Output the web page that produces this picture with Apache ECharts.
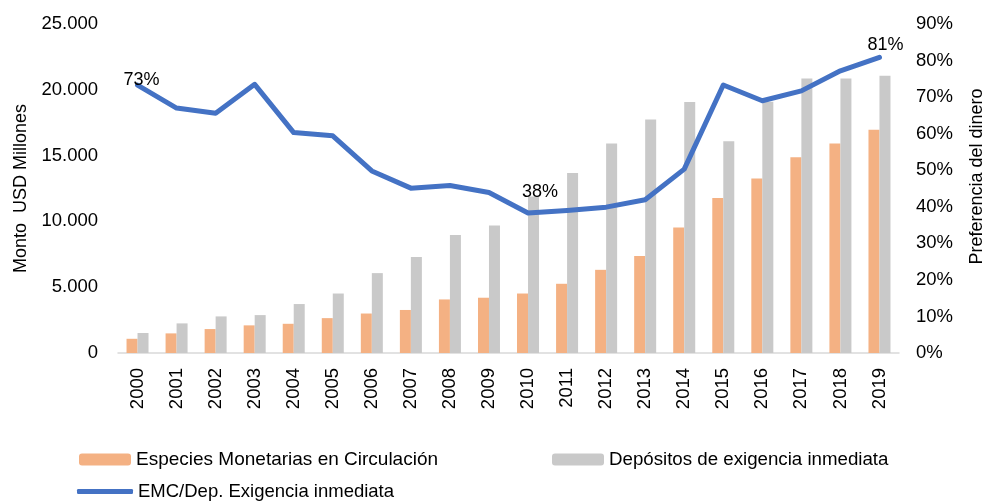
<!DOCTYPE html>
<html>
<head>
<meta charset="utf-8">
<script src="https://cdn.jsdelivr.net/npm/echarts@6/dist/echarts.min.js"></script>
<style>
  html, body { margin: 0; padding: 0; background: #fff; }
  #chart { width: 989px; height: 503px; }
</style>
</head>
<body>
<div id="chart"></div>
<script>
// años
var years = ['2000','2001','2002','2003','2004','2005','2006','2007','2008','2009',
             '2010','2011','2012','2013','2014','2015','2016','2017','2018','2019'];
// Especies Monetarias en Circulación (USD millones)
var emc = [1080,1490,1820,2100,2220,2650,3000,3270,4070,4200,
           4520,5260,6320,7370,9540,11770,13260,14870,15910,16970];
// Depósitos de exigencia inmediata (USD millones)
var depositos = [1520,2250,2780,2880,3720,4520,6070,7290,8960,9690,
                 11900,13670,15910,17740,19080,16090,19100,20850,20850,21060];
// EMC/Dep. (%)
var preferencia = [73.3,67.0,65.6,73.5,60.3,59.4,49.8,45.1,45.8,43.9,
                   38.3,39.0,39.9,41.9,50.3,73.3,69.0,71.7,77.2,80.9];

var font = 'Liberation Sans';
var txt = '#000';

//etiquetas visibles solo en algunos puntos
var labelOffsets = { 0: [4, 4], 10: [12, -12], 19: [6, -3] };
var lineData = [];
for (var i = 0; i < preferencia.length; i++) {
    var item = { value: preferencia[i] };
    if (labelOffsets[i]) {
        item.label = { show: true, position: 'top', distance: 0, offset: labelOffsets[i] };
    }
    lineData.push(item);
}

function miles(v) {
    return String(v).replace(/\B(?=(\d{3})+(?!\d))/g, '.');
}

var myChart = echarts.init(document.getElementById('chart'));
var option = {
    animation: false,
    textStyle: { fontFamily: font },
    grid: { left: 118, right: 90, top: 24, bottom: 150, containLabel: false, outerBoundsMode: 'none' },
    legend: [
        {
            left: 79, top: 450, padding: 0, itemWidth: 52, itemHeight: 12, itemGap: 0,
            textStyle: { fontFamily: font, fontSize: 19, color: txt },
            data: ['Especies Monetarias en Circulación']
        },
        {
            left: 552, top: 450, padding: 0, itemWidth: 52, itemHeight: 12, itemGap: 0,
            textStyle: { fontFamily: font, fontSize: 18.7, color: txt },
            data: ['Depósitos de exigencia inmediata']
        },
        {
            left: 77, top: 482, padding: 0, itemWidth: 56, itemHeight: 5, itemGap: 0,
            textStyle: { fontFamily: font, fontSize: 18.5, color: txt },
            data: [{ name: 'EMC/Dep. Exigencia inmediata', icon: 'roundRect' }]
        }
    ],
    xAxis: {
        type: 'category',
        data: years,
        axisLine: { lineStyle: { color: '#d9d9d9', width: 1.5 } },
        axisTick: { show: false },
        axisLabel: { rotate: 90, margin: 15, fontFamily: font, fontSize: 18.5, color: txt }
    },
    yAxis: [
        {
            type: 'value', min: 0, max: 25000, interval: 5000,
            name: 'Monto  USD Millones', nameLocation: 'middle', nameGap: 85,
            nameTextStyle: { fontFamily: font, fontSize: 18, color: txt },
            axisLine: { show: false }, axisTick: { show: false },
            splitLine: { show: false },
            axisLabel: {
                margin: 20, fontFamily: font, fontSize: 18.5, color: txt,
                formatter: function (v) { return miles(v); }
            }
        },
        {
            type: 'value', min: 0, max: 90, interval: 10, position: 'right',
            name: 'Preferencia del dinero', nameLocation: 'middle', nameGap: 69,
            nameRotate: 90,
            nameTextStyle: { fontFamily: font, fontSize: 18, color: txt, padding: [0, 0, 0, 24] },
            axisLine: { show: false }, axisTick: { show: false },
            splitLine: { show: false },
            axisLabel: { margin: 17, fontFamily: font, fontSize: 18.5, color: txt, formatter: '{value}%' }
        }
    ],
    series: [
        {
            name: 'Especies Monetarias en Circulación',
            type: 'bar', data: emc, barWidth: 11, barGap: '0%',
            itemStyle: { color: '#F4B183' }
        },
        {
            name: 'Depósitos de exigencia inmediata',
            type: 'bar', data: depositos, barWidth: 11, barGap: '0%',
            itemStyle: { color: '#C9C9C9' }
        },
        {
            name: 'EMC/Dep. Exigencia inmediata',
            type: 'line', yAxisIndex: 1, data: lineData,
            symbol: 'circle', symbolSize: 0, showSymbol: true, z: 5,
            lineStyle: { color: '#4472C4', width: 5, join: 'round', cap: 'round' },
            itemStyle: { color: '#4472C4' },
            label: {
                show: false, fontFamily: font, fontSize: 18, color: txt,
                formatter: function (p) { return Math.round(p.value) + '%'; }
            }
        }
    ]
};
myChart.setOption(option);
</script>
</body>
</html>
